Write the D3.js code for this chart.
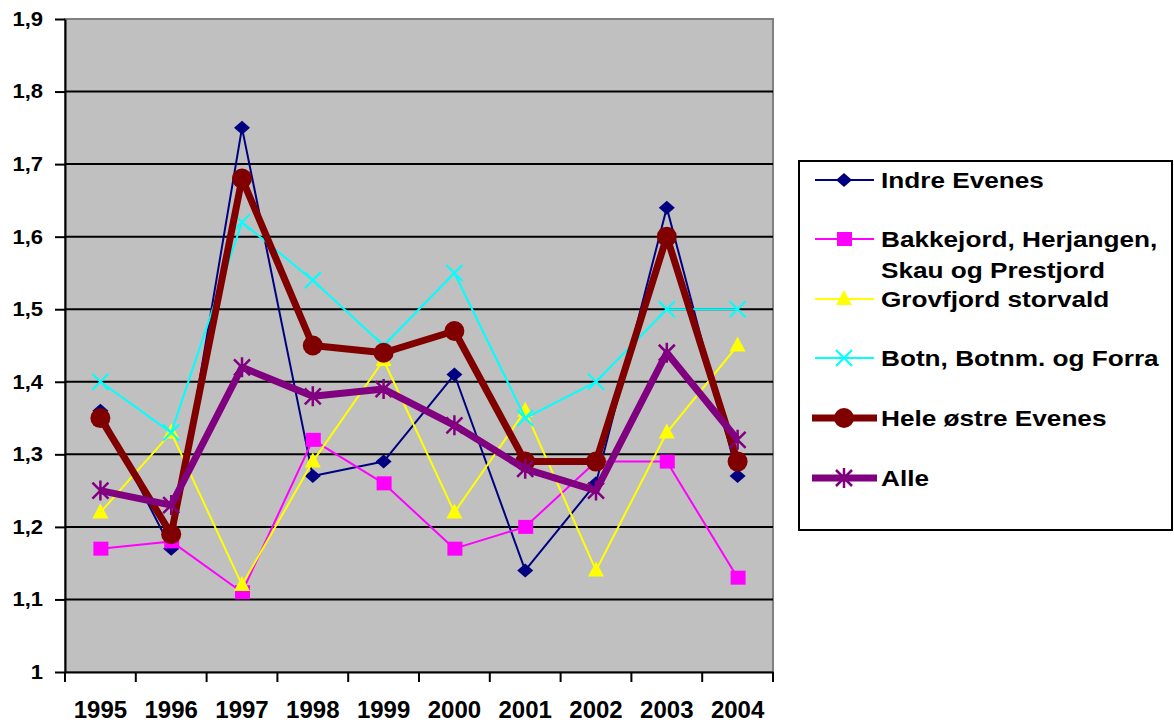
<!DOCTYPE html>
<html lang="no">
<head>
<meta charset="UTF-8">
<title>Evenes 1995-2004</title>
<script src="https://cdn.jsdelivr.net/npm/d3@7"></script>
<style>
  body { margin: 0; background: #fff; }
  text { font-family: "Liberation Sans", Arial, sans-serif; font-weight: bold; }
</style>
</head>
<body>
<div id="chart"></div>
<script>
// data
var years = ["1995", "1996", "1997", "1998", "1999", "2000", "2001", "2002", "2003", "2004"];
var yTicks = [1, 1.1, 1.2, 1.3, 1.4, 1.5, 1.6, 1.7, 1.8, 1.9];
var seriesNames = ["Indre Evenes", "Bakkejord, Herjangen, Skau og Prestjord", "Grovfjord storvald",
  "Botn, Botnm. og Forra", "Hele østre Evenes", "Alle"];
var indreEvenes = [1.36, 1.17, 1.75, 1.27, 1.29, 1.41, 1.14, 1.26, 1.64, 1.27];
var bakkejord = [1.17, 1.18, 1.11, 1.32, 1.26, 1.17, 1.20, 1.29, 1.29, 1.13];
var grovfjord = [1.22, 1.33, 1.12, 1.29, 1.43, 1.22, 1.36, 1.14, 1.33, 1.45];
var botn = [1.40, 1.33, 1.62, 1.54, 1.45, 1.55, 1.35, 1.40, 1.50, 1.50];
var heleOstre = [1.35, 1.19, 1.68, 1.45, 1.44, 1.47, 1.29, 1.29, 1.60, 1.29];
var alle = [1.25, 1.23, 1.42, 1.38, 1.39, 1.34, 1.28, 1.25, 1.44, 1.32];

var width = 1174, height = 724;
var plot = { left: 65, top: 19, right: 773, bottom: 672 };

// one entry per series: values + how it is drawn
var series = [
  { name: seriesNames[0], values: indreEvenes, color: "#000080", lw: 2, marker: "diamond" },
  { name: seriesNames[1], values: bakkejord, color: "#ff00ff", lw: 2, marker: "square" },
  { name: seriesNames[2], values: grovfjord, color: "#ffff00", lw: 2, marker: "triangle" },
  { name: seriesNames[3], values: botn, color: "#00ffff", lw: 2, marker: "x" },
  { name: seriesNames[4], values: heleOstre, color: "#800000", lw: 7, marker: "circle" },
  { name: seriesNames[5], values: alle, color: "#800080", lw: 7, marker: "star" }
];

var svg = d3.select("#chart").append("svg")
  .attr("width", width)
  .attr("height", height);

var x = d3.scaleBand().domain(years).range([plot.left, plot.right]);
var y = d3.scaleLinear().domain([1, 1.9]).range([plot.bottom, plot.top]);
var fmt = function(d) { return d3.format(".1~f")(d).replace(".", ","); };

// plot background
svg.append("rect")
  .attr("x", plot.left).attr("y", plot.top)
  .attr("width", plot.right - plot.left).attr("height", plot.bottom - plot.top)
  .attr("fill", "#c0c0c0")
  .attr("stroke", "#808080").attr("stroke-width", 2);

// gridlines
svg.append("g").selectAll("line")
  .data(yTicks.slice(1, -1))
  .enter().append("line")
  .attr("x1", plot.left).attr("x2", plot.right)
  .attr("y1", function(d) { return y(d); }).attr("y2", function(d) { return y(d); })
  .attr("stroke", "#000").attr("stroke-width", 2);

// y axis (labels a bit wide, like the original)
var yAxis = svg.append("g")
  .attr("transform", "translate(" + plot.left + ",0)")
  .call(d3.axisLeft(y).tickValues(yTicks).tickFormat(fmt).tickSize(10).tickSizeOuter(0));
yAxis.selectAll("text")
  .attr("x", -20)
  .attr("transform", "scale(1.1,1)")
  .style("font-size", "20px").attr("fill", "#000");
yAxis.selectAll("line, path").attr("stroke", "#000").attr("stroke-width", 2);

// x axis, ticks between categories
var xAxis = svg.append("g")
  .attr("transform", "translate(0," + plot.bottom + ")")
  .call(d3.axisBottom(x).tickSize(0).tickSizeOuter(0).tickPadding(29));
xAxis.selectAll("text").style("font-size", "24px").attr("fill", "#000");
xAxis.select("path").attr("stroke", "#000").attr("stroke-width", 2);
xAxis.selectAll(".sep")
  .data(years.concat(["end"]))
  .enter().append("line")
  .attr("class", "sep")
  .attr("x1", function(d, i) { return plot.left + i * x.step(); })
  .attr("x2", function(d, i) { return plot.left + i * x.step(); })
  .attr("y1", 0).attr("y2", 10)
  .attr("stroke", "#000").attr("stroke-width", 2);

var line = d3.line()
  .x(function(d, i) { return x(years[i]) + x.bandwidth() / 2; })
  .y(function(d) { return y(d); });

function drawMarker(g, type, color) {
  if (type === "diamond") {
    g.append("path").attr("d", "M0,-7L8,0L0,7L-8,0Z").attr("fill", color);
  } else if (type === "square") {
    g.append("rect").attr("x", -7).attr("y", -7).attr("width", 15).attr("height", 14).attr("fill", color);
  } else if (type === "triangle") {
    g.append("path").attr("d", "M0,-9L8,6L-8,6Z").attr("fill", color);
  } else if (type === "circle") {
    g.append("circle").attr("r", 10).attr("fill", color);
  } else if (type === "x") {
    g.append("path").attr("d", "M-8,-8L8,8M-8,8L8,-8").attr("stroke", color).attr("stroke-width", 2);
  } else if (type === "star") {
    g.append("path").attr("d", "M-8,-8L8,8M-8,8L8,-8M0,-10L0,10").attr("stroke", color).attr("stroke-width", 2.5);
  }
}

series.forEach(function(s) {
  var g = svg.append("g");
  g.append("path")
    .datum(s.values)
    .attr("d", line)
    .attr("fill", "none")
    .attr("stroke", s.color)
    .attr("stroke-width", s.lw)
    .attr("stroke-linejoin", "round");
  s.values.forEach(function(v, i) {
    var m = g.append("g")
      .attr("transform", "translate(" + (x(years[i]) + x.bandwidth() / 2) + "," + y(v) + ")");
    drawMarker(m, s.marker, s.color);
  });
});

// legend
var legend = svg.append("g");
legend.append("rect")
  .attr("x", 799).attr("y", 161).attr("width", 373).attr("height", 369)
  .attr("fill", "#fff").attr("stroke", "#000").attr("stroke-width", 2);

var legendRows = [
  { ys: 180, lines: ["Indre Evenes"] },
  { ys: 239, lines: ["Bakkejord, Herjangen,", "Skau og Prestjord"] },
  { ys: 299, lines: ["Grovfjord storvald"] },
  { ys: 358, lines: ["Botn, Botnm. og Forra"] },
  { ys: 418, lines: ["Hele østre Evenes"] },
  { ys: 478, lines: ["Alle"] }
];

series.forEach(function(s, i) {
  var row = legendRows[i];
  var item = legend.append("g");
  var x0 = s.lw > 3 ? 812 : 815, x1 = s.lw > 3 ? 877 : 874;
  item.append("line")
    .attr("x1", x0).attr("x2", x1).attr("y1", row.ys).attr("y2", row.ys)
    .attr("stroke", s.color).attr("stroke-width", s.lw);
  drawMarker(item.append("g").attr("transform", "translate(844," + row.ys + ")"), s.marker, s.color);
  item.selectAll("text")
    .data(row.lines)
    .enter().append("text")
    .attr("transform", function(d, j) {
      return "translate(881," + (row.ys + 8 + j * 31) + ") scale(1.19,1)";
    })
    .style("font-size", "22px")
    .text(function(d) { return d; });
});
</script>
</body>
</html>
